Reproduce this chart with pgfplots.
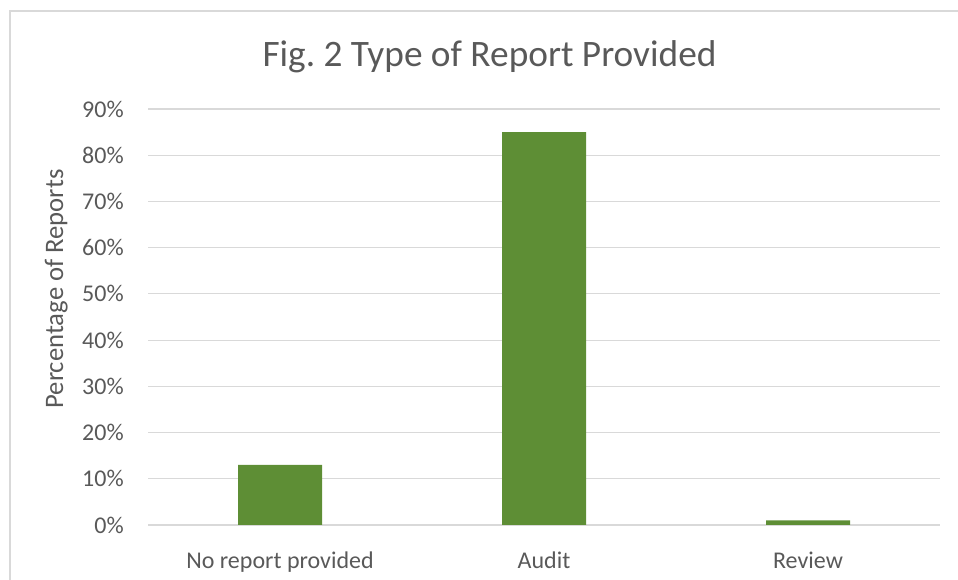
\documentclass[border=0pt]{standalone}
\usepackage{pgfplots}
\pgfplotsset{compat=1.18}
\usepackage{fontspec}
\setmainfont{Carlito}
\definecolor{barc}{HTML}{5E8E35}
\definecolor{txt}{HTML}{595959}
\definecolor{gridc}{HTML}{D9D9D9}
\begin{document}
\begin{tikzpicture}[x=0.75pt,y=0.75pt]
\useasboundingbox (0,0) rectangle (958,580);
\draw[gridc, line width=0.9pt] (10,0) -- (10,569) -- (958,569);
\node[txt, anchor=base, inner sep=0pt, font=\fontsize{28}{32}\selectfont] at (489.5,513.5) {Fig.\ 2 Type of Report Provided};
\node[txt, rotate=90, anchor=base, inner sep=0pt, font=\fontsize{20}{24}\selectfont] at (63,291) {Percentage of Reports};
\begin{axis}[
  at={(111pt,41.25pt)}, anchor=south west,
  width=594pt, height=312pt, scale only axis,
  xmin=-0.5, xmax=2.5, ymin=0, ymax=90,
  ytick={0,10,...,90},
  xtick={0,1,2},
  xticklabels={No report provided, Audit, Review},
  /pgf/number format/assume math mode=true,
  yticklabel={\pgfmathprintnumber{\tick}\%},
  axis line style={draw=none},
  major tick style={draw=none},
  ymajorgrids,
  grid style={gridc, line width=0.9pt},
  ticklabel style={txt, font=\fontsize{18}{22}\selectfont},
  yticklabel style={anchor=east, inner sep=0pt, xshift=-18pt},
  xticklabel style={anchor=base, inner sep=0pt, yshift=-28.5pt},
  ybar, bar width=63pt,
  clip=false,
]
\addplot[fill=barc, draw=none] coordinates {(0,13) (1,85) (2,1)};
\end{axis}
\end{tikzpicture}
\end{document}
